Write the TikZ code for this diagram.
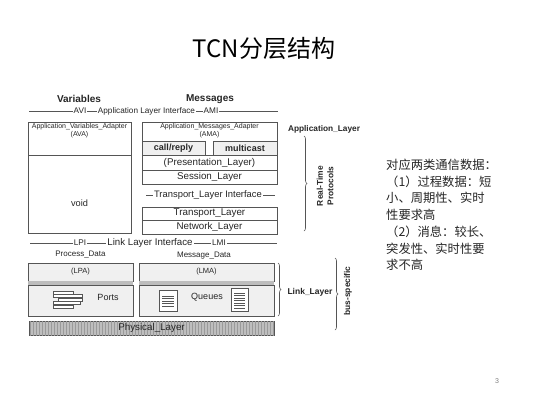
\documentclass[tikz,border=0pt]{standalone}
\usepackage{fontspec}
\setmainfont{Liberation Sans}
\newfontfamily\cjk{Noto Sans CJK SC}
\usetikzlibrary{decorations.pathreplacing,patterns}
\definecolor{linec}{HTML}{555555}
\definecolor{txtc}{HTML}{262626}
\definecolor{boxfill}{HTML}{F0F0F0}
\definecolor{bandc}{HTML}{BDBDBD}
\definecolor{physc}{HTML}{BEBEBE}
\definecolor{hatchc}{HTML}{9A9A9A}
\begin{document}
\begin{tikzpicture}[x=1pt,y=-1pt,
  rule/.style={draw=linec, line width=0.6pt},
  layer/.style={draw=linec, line width=0.6pt, inner sep=0pt, text=txtc, font=\fontsize{9.8}{11}\selectfont},
  iface/.style={fill=white, inner sep=1pt, text=txtc},
  small/.style={font=\fontsize{8.2}{9}\selectfont},
  tiny/.style={font=\fontsize{7}{7.6}\selectfont},
  tag/.style={font=\bfseries\fontsize{8.3}{9}\selectfont, text=txtc},
  brc/.style={draw=linec, line width=0.6pt, decorate, decoration={brace, amplitude=3pt}},
  cn/.style={anchor=west, inner sep=0pt, text=txtc, font=\cjk\fontsize{12.3}{14}\selectfont},
  iconbox/.style={draw=linec, line width=0.4pt, fill=white}
]
\useasboundingbox (0,0) rectangle (533,400);
\fill[white] (0,0) rectangle (533,400);

% title
\node[font=\cjk\fontsize{24}{28}\selectfont, text=black] (title) at (264,48) {TCN分层结构};

% column heads
\node[font=\bfseries\fontsize{10}{12}\selectfont, text=txtc] (vars) at (79,99) {Variables};
\node[font=\bfseries\fontsize{10}{12}\selectfont, text=txtc] (msgs) at (210,99) {Messages};

% application layer interface line
\coordinate (avil) at (29,111);
\coordinate (avir) at (278,111);
\draw[rule] (avil) -- (avir);
\node[iface, small] (avi) at (80,111) {AVI};
\node[iface, small] (ali) at (146.5,111) {Application Layer Interface};
\node[iface, small] (ami) at (211,111) {AMI};

% AVA box
\node[layer, minimum width=103pt, minimum height=111pt] (ava) at (79.5,177.5) {};
\coordinate (avadl) at (28,155);
\coordinate (avadr) at (131,155);
\draw[rule] (avadl) -- (avadr);
\node[tiny, align=center, anchor=north, text=txtc, inner sep=0pt] (avat) at (79.5,123.5) {Application\_Variables\_Adapter\\(AVA)};
\node[font=\fontsize{9.2}{10}\selectfont, text=txtc] (void) at (79.5,203) {void};

% AMA stack
\node[layer, minimum width=135pt, minimum height=62pt] (ama) at (209.5,153) {};
\node[tiny, align=center, anchor=north, text=txtc, inner sep=0pt] (amat) at (209.5,123.5) {Application\_Messages\_Adapter\\(AMA)};
\node[layer, fill=boxfill, minimum width=63pt, minimum height=14pt, font=\bfseries\fontsize{9}{10}\selectfont] (call) at (173.5,148) {call/reply};
\node[layer, fill=boxfill, minimum width=64pt, minimum height=14pt, font=\bfseries\fontsize{9}{10}\selectfont] (mcast) at (245,148) {multicast};
\node[layer, minimum width=135pt, minimum height=15pt] (pres) at (209.5,162.5) {(Presentation\_Layer)};
\node[layer, minimum width=135pt, minimum height=14pt] (sess) at (209.5,177) {Session\_Layer};

% transport interface
\coordinate (tlil) at (146,195);
\coordinate (tlir) at (275,195);
\draw[rule] (tlil) -- (tlir);
\node[iface, font=\fontsize{9.4}{10}\selectfont] (tli) at (208,195) {Transport\_Layer Interface};

\node[layer, minimum width=135pt, minimum height=13pt] (trans) at (209.5,213.5) {Transport\_Layer};
\node[layer, minimum width=135pt, minimum height=14pt] (net) at (209.5,227) {Network\_Layer};

% link layer interface line
\coordinate (lpil) at (30,243);
\coordinate (lpir) at (277,243);
\draw[rule] (lpil) -- (lpir);
\node[iface, small] (lpi) at (80,243) {LPI};
\node[iface, font=\fontsize{9.7}{11}\selectfont] (lli) at (150,243) {Link Layer Interface};
\node[iface, small] (lmi) at (219,243) {LMI};

\node[font=\fontsize{8}{9}\selectfont, text=txtc] (pd) at (80.5,255) {Process\_Data};
\node[font=\fontsize{8}{9}\selectfont, text=txtc] (md) at (204,256) {Message\_Data};

% link layer boxes
\node[layer, fill=boxfill, minimum width=105pt, minimum height=18pt, font=\fontsize{7.5}{8}\selectfont] (lpa) at (80.5,272) {(LPA)};
\fill[bandc] (28,281.3) rectangle (133,284.7);
\node[layer, fill=boxfill, minimum width=105pt, minimum height=31pt] (ports) at (80.5,300.5) {};
\node[font=\fontsize{9}{10}\selectfont, text=txtc] (portst) at (108,297) {Ports};

\node[layer, fill=boxfill, minimum width=135pt, minimum height=18pt, font=\fontsize{7.5}{8}\selectfont] (lma) at (206.5,272) {(LMA)};
\fill[bandc] (139,281.3) rectangle (274,284.7);
\node[layer, fill=boxfill, minimum width=135pt, minimum height=31pt] (queues) at (206.5,300.5) {};
\node[font=\fontsize{9}{10}\selectfont, text=txtc] (queuest) at (207,297) {Queues};

% ports icon
\foreach \y/\a/\b in {291/53/73, 294.5/53/82, 298/58/82, 301.5/53/80, 305/53/73}
  \draw[iconbox] (\a,\y) rectangle (\b,\y+2.8);

% queue icons
\draw[iconbox] (159,290) rectangle (177,311);
\foreach \y in {296,298.5,301,303.5,306}
  \draw[linec, line width=0.4pt] (162,\y) -- (174,\y);
\draw[iconbox] (231,288) rectangle (248,311);
\foreach \y in {293,295.5,298,300.5,303,305.5,308}
  \draw[linec, line width=0.4pt] (234,\y) -- (245,\y);

% physical layer
\node[layer, fill=physc, minimum width=245pt, minimum height=14pt,
      postaction={pattern=vertical lines, pattern color=hatchc}] (phys) at (151.5,328) {};
\node[font=\fontsize{9.8}{11}\selectfont, text=txtc] (physt) at (151.5,328) {Physical\_Layer};

% right-side labels and braces
\node[tag] (appl) at (324,129) {Application\_Layer};
\coordinate (rtt) at (304,136);
\coordinate (rtb) at (304,231);
\draw[brc] (rtt) -- (rtb);
\node[rotate=90, align=center, font=\bfseries\fontsize{8.4}{10.5}\selectfont, text=txtc] (rtp) at (325,186) {Real-Time\\Protocols};

\coordinate (llt) at (278,263);
\coordinate (llb) at (278,316);
\draw[brc] (llt) -- (llb);
\node[tag, anchor=west, font=\bfseries\fontsize{8.5}{9}\selectfont] (linkl) at (284,292) {Link\_Layer};

\coordinate (bst) at (335,258);
\coordinate (bsb) at (335,330);
\draw[brc] (bst) -- (bsb);
\node[rotate=90, font=\bfseries\fontsize{8.4}{9}\selectfont, text=txtc] (bus) at (348,291) {bus-specific};

% Chinese notes
\node[cn] (c1) at (386,165) {对应两类通信数据：};
\node[cn] (c2) at (386,181.7) {（1）过程数据：短};
\node[cn] (c3) at (386,198.3) {小、周期性、实时};
\node[cn] (c4) at (386,215) {性要求高};
\node[cn] (c5) at (386,231.7) {（2）消息：较长、};
\node[cn] (c6) at (386,248.3) {突发性、实时性要};
\node[cn] (c7) at (386,265) {求不高};

% page number
\node[text=gray, font=\fontsize{7}{8}\selectfont] (pg) at (497,381) {3};
\end{tikzpicture}
\end{document}
